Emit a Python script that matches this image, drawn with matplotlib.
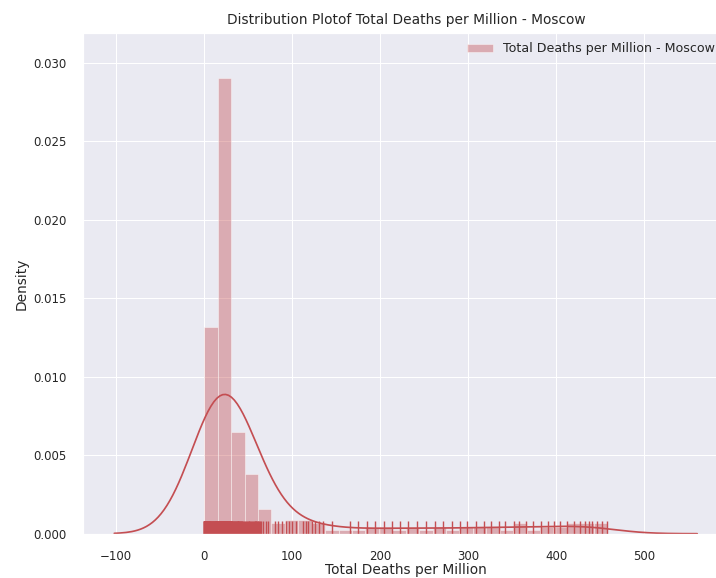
import numpy as np
import matplotlib
matplotlib.use("Agg")
import matplotlib.pyplot as plt
import seaborn as sns

# Total deaths per million, Moscow: low values with how often each occurs
early_values = [0.3, 1, 2, 3, 4, 5, 6, 7, 8, 9, 10, 11, 12, 13, 14, 15,
                16, 17, 18, 19, 20, 21, 22, 23, 24, 25, 26, 27, 28, 29, 30,
                31, 32, 33, 34, 35, 36, 37, 38, 39, 40, 41, 42, 43, 44, 45]
early_counts = [6, 5, 5, 5, 4, 4, 3, 3, 3, 3, 3, 3, 3, 3, 3, 3,
                8, 8, 9, 9, 9, 9, 9, 9, 9, 9, 9, 9, 8, 8, 8,
                3, 2, 2, 2, 2, 2, 2, 2, 2, 2, 2, 2, 2, 1, 1]

# Single observations further along the curve
later_values = [46.5, 47.5, 48.5, 49.5, 50.5, 51.5, 52.5, 53.5, 54.5, 55.5,
                56.5, 57.5, 58, 58.5, 59.5, 60, 60.8,
                61.5, 62.2, 63, 65, 67.3, 69.9, 72.1,
                80, 84, 88, 92.5, 96, 100, 104, 112.4, 115.4, 118.4, 122.2,
                126, 130, 135.1, 145, 166, 175, 185, 194, 204, 213, 223, 232,
                242, 252, 262, 271, 281, 290, 298.5, 309, 317.4, 325.8, 335,
                342, 351.5, 357, 366, 374, 382, 390, 397, 404, 412, 420,
                426.5, 432, 437, 441, 446, 452, 457.6]

deaths = np.concatenate([np.repeat(early_values, early_counts), later_values])

sns.set_theme(style="darkgrid", color_codes=True)

fig = plt.figure(figsize=(716 / 72, 578 / 72), dpi=72)
ax = fig.add_axes([83 / 716, (578 - 533.7) / 578, 646 / 716, 500.7 / 578])

ax.hist(deaths, bins=30, density=True, color="r", alpha=0.4,
        label="Total Deaths per Million - Moscow")
sns.kdeplot(x=deaths, ax=ax, color="r", cut=3, linewidth=1.7)
sns.rugplot(x=deaths, ax=ax, color="r", height=0.025, linewidth=1.4)

ax.set_xlim(-137.5, 596)
ax.set_ylim(0, 0.03189)
ax.set_xticks([-100, 0, 100, 200, 300, 400, 500])
ax.set_yticks([0.0, 0.005, 0.010, 0.015, 0.020, 0.025, 0.030])
ax.yaxis.set_major_formatter(matplotlib.ticker.FormatStrFormatter("%.3f"))
ax.tick_params(axis="both", labelsize=11.7, pad=10.5)

ax.set_title("Distribution Plotof Total Deaths per Million - Moscow",
             fontsize=13.8, pad=9)
ax.set_xlabel("Total Deaths per Million", fontsize=13.8, labelpad=0)
ax.set_ylabel("Density", fontsize=13.8)
ax.legend(loc="upper right", fontsize=12.6, frameon=False,
          bbox_to_anchor=(1 - 3 / 646, 1 + 2 / 500.7))

fig.savefig("out.png", dpi=72)
